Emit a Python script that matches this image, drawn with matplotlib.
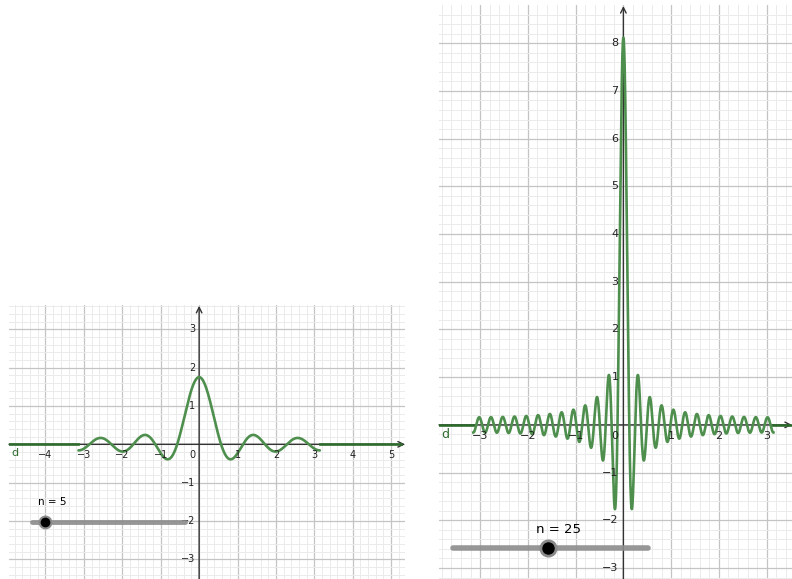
import matplotlib.pyplot as plt
import numpy as np

# slider values of the two GeoGebra views
n_values = [5, 25]
slider_labels = ["n = 5", "n = 25"]
left_xticks = [-4, -3, -2, -1, 1, 2, 3, 4, 5]
left_yticks = [-3, -2, -1, 1, 2, 3]
right_xticks = [-3, -2, -1, 1, 2, 3]
right_yticks = [-3, -2, -1, 1, 2, 3, 4, 5, 6, 7, 8]

GREEN = "#4e8f4e"
DARKGREEN = "#2d6b2d"
AXIS = "#333333"


def dirichlet(n, x):
    return np.sin((n + 0.5) * x) / (2 * np.pi * np.sin(x / 2))


def setup(ax, xlim, ylim, xticks, yticks, fs, xoff, yoff):
    ax.set_xlim(*xlim)
    ax.set_ylim(*ylim)
    ax.set_xticks(np.arange(np.ceil(xlim[0]), xlim[1], 1))
    ax.set_yticks(np.arange(np.ceil(ylim[0]), ylim[1], 1))
    ax.set_xticks(np.arange(np.ceil(xlim[0] * 5) / 5, xlim[1], 0.2), minor=True)
    ax.set_yticks(np.arange(np.ceil(ylim[0] * 5) / 5, ylim[1], 0.2), minor=True)
    ax.grid(True, which="minor", color="#ebebeb", lw=0.7, zorder=0)
    ax.grid(True, which="major", color="#c4c4c4", lw=0.9, zorder=0)
    ax.tick_params(which="both", length=0, labelbottom=False, labelleft=False)
    for s in ax.spines.values():
        s.set_visible(False)
    ax.annotate("", xy=(xlim[1], 0), xytext=(xlim[0], 0),
                arrowprops=dict(arrowstyle="->", color=AXIS, lw=1.0,
                                shrinkA=0, shrinkB=0), zorder=2)
    ax.annotate("", xy=(0, ylim[1] - 0.02), xytext=(0, ylim[0]),
                arrowprops=dict(arrowstyle="->", color=AXIS, lw=1.0,
                                shrinkA=0, shrinkB=0), zorder=2)
    for t in xticks:
        ax.text(t, -xoff, str(t).replace("-", "\u2212"), ha="center", va="top",
                fontsize=fs, color="#222222", zorder=4)
    for t in yticks:
        ax.text(-yoff, t, str(t).replace("-", "\u2212"), ha="right", va="center",
                fontsize=fs, color="#222222", zorder=4)
    ax.text(-yoff, -xoff, "0", ha="right", va="top", fontsize=fs,
            color="#222222", zorder=4)


fig = plt.figure(figsize=(7.92, 5.79), dpi=100)

# left view, n = 5
ax1 = fig.add_axes([9 / 792, 0, 396 / 792, 274 / 579])
xl1, yl1 = (-4.95, 5.36), (-3.51, 3.63)
setup(ax1, xl1, yl1, left_xticks, left_yticks, 7, 0.16, 0.1)
x = np.linspace(-np.pi, np.pi, 2001)
x = x[np.abs(x) > 1e-9]
ax1.plot(x, dirichlet(n_values[0], x), color=GREEN, lw=1.9, zorder=3,
         solid_capstyle="round")
ax1.plot([xl1[0], -np.pi], [0, 0], color=DARKGREEN, lw=1.9, zorder=3)
ax1.plot([np.pi, xl1[1] - 0.1], [0, 0], color=DARKGREEN, lw=1.9, zorder=3)
ax1.text(-4.79, -0.1, "d", color=DARKGREEN, fontsize=8, ha="center", va="top",
         zorder=4)
ax1.plot([-4.35, -0.36], [-2.03, -2.03], color="#8c8c8c", lw=3.5,
         solid_capstyle="round", alpha=0.9, zorder=5)
ax1.plot([-4.0], [-2.03], "o", ms=8.5, mfc="black", mec="#8a8a8a", mew=1.5,
         zorder=6)
ax1.text(-4.2, -1.5, slider_labels[0], fontsize=7.5, ha="left", va="center",
         zorder=6)

# right view, n = 25
ax2 = fig.add_axes([439 / 792, 0, 353 / 792, 574 / 579])
xl2, yl2 = (-3.86, 3.53), (-3.23, 8.80)
setup(ax2, xl2, yl2, right_xticks, right_yticks, 8, 0.13, 0.1)
x = np.linspace(-np.pi, np.pi, 6001)
x = x[np.abs(x) > 1e-9]
ax2.plot(x, dirichlet(n_values[1], x), color=GREEN, lw=1.9, zorder=3)
ax2.plot([xl2[0], -np.pi], [0, 0], color=DARKGREEN, lw=1.9, zorder=3)
ax2.plot([np.pi, xl2[1]], [0, 0], color=DARKGREEN, lw=1.9, zorder=3)
ax2.text(-3.73, -0.06, "d", color=DARKGREEN, fontsize=9, ha="center", va="top",
         zorder=4)
ax2.plot([-3.57, 0.51], [-2.59, -2.59], color="#8c8c8c", lw=4,
         solid_capstyle="round", alpha=0.9, zorder=5)
ax2.plot([-1.57], [-2.59], "o", ms=11, mfc="black", mec="#8a8a8a", mew=2,
         zorder=6)
ax2.text(-1.35, -2.19, slider_labels[1], fontsize=9.5, ha="center",
         va="center", zorder=6)

fig.savefig("out.png", dpi=100)
